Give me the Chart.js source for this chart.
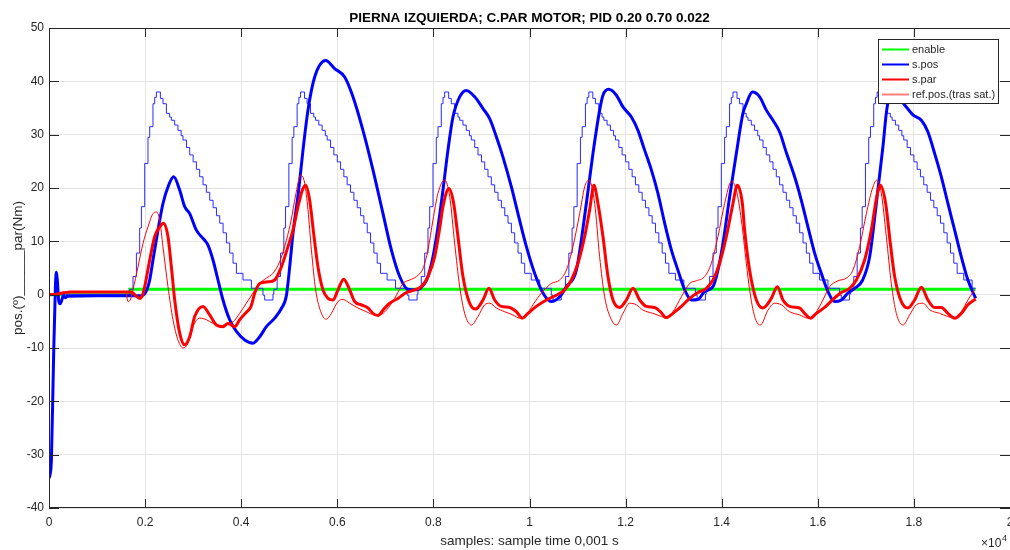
<!DOCTYPE html>
<html>
<head>
<meta charset="utf-8">
<title>PIERNA IZQUIERDA; C.PAR MOTOR</title>
<script src="https://cdn.jsdelivr.net/npm/chart.js@4.4.1/dist/chart.umd.min.js"></script>
<style>
  html, body { margin: 0; padding: 0; background: #ffffff; }
  canvas { display: block; }
</style>
</head>
<body>
<canvas id="legChart" width="1010" height="550"></canvas>
<script>
// --- DATA (samples, value) ---
const xTickValues = [0, 2000, 4000, 6000, 8000, 10000, 12000, 14000, 16000, 18000, 20000];
const xTickLabels = ['0', '0.2', '0.4', '0.6', '0.8', '1', '1.2', '1.4', '1.6', '1.8', '2'];
const yTickValues = [-40, -30, -20, -10, 0, 10, 20, 30, 40, 50];

const seriesNames = ['enable', 's.pos', 's.par', 'ref.pos.(tras sat.)'];

const enableSignal = [[0, 0], [1679, 0], [1680, 1], [19285, 1]];

const sPos = [
  [0, -34.4], [20, -33.8], [50, -31], [95, -12], [135, 2], [155, 4.2], [175, 2.5], [200, -1], [230, -1.7],
  [260, -1.2], [300, -0.2], [340, -0.6], [380, -0.3], [1000, -0.2], [1900, -0.2],
  [1956, -0.1], [2040, 1], [2096, 2.75], [2164, 6.5], [2268, 12.1], [2372, 17.1], [2476, 20.2], [2595, 22.1],
  [2720, 19.6], [2824, 16.5], [2928, 15.2], [3067, 12.1], [3240, 10.2], [3309, 9.3], [3413, 6.5], [3517, 2.75],
  [3621, -1], [3760, -4.7], [3900, -6.9], [4073, -8.5], [4245, -9.1], [4385, -7.9], [4524, -6.0], [4697, -4.4],
  [4836, -2.6], [4940, -0.2], [5009, 5.2], [5078, 11.5], [5196, 19.6], [5286, 27.1], [5390, 34.6], [5529, 40.8],
  [5758, 43.9], [5945, 42.4], [6153, 40.8], [6326, 37.1], [6534, 30.8], [6742, 23.4], [6951, 15.2], [7125, 8.4],
  [7298, 3.4], [7471, 1.0], [7646, 0.9], [7818, 2.1], [7887, 3.4], [7991, 7.1], [8095, 12.7], [8199, 19.6],
  [8303, 27.1], [8407, 33.3], [8547, 37.1], [8686, 38.3], [8859, 37.1], [9032, 34.9], [9171, 33.0], [9310, 29.6],
  [9448, 25.8], [9623, 20.2], [9760, 15.2], [9935, 9.0], [10107, 4.0], [10280, 0.3], [10455, -1.3], [10628, -0.4],
  [10767, 1.5], [10975, 4.6], [11183, 17.1], [11321, 26.5], [11460, 34.6], [11529, 37.4], [11648, 38.5],
  [11808, 37.4], [11945, 35.2], [12120, 33.3], [12257, 30.8], [12396, 27.1], [12536, 23.4], [12673, 19.0],
  [12813, 13.4], [12952, 8.4], [13089, 4.6], [13229, 0.9], [13368, -1.0], [13506, -0.9], [13645, 0.6],
  [13818, 1.5], [13922, 4.6], [14026, 9.6], [14166, 18.4], [14305, 26.5], [14442, 34.0], [14513, 35.8],
  [14638, 38.0], [14790, 37.1], [14929, 34.6], [15067, 32.7], [15206, 30.5], [15350, 26.5], [15518, 22.1],
  [15657, 17.7], [15795, 12.7], [15934, 7.8], [16073, 4.0], [16211, 0.6], [16350, -1.3], [16490, -1.0],
  [16627, 0.3], [16767, 1.2], [16934, 2.75], [17079, 7.1], [17218, 17.1], [17355, 27.7], [17434, 34.6],
  [17537, 38.0], [17700, 36.8], [17842, 35.2], [17980, 33.7], [18155, 32.7], [18292, 30.5], [18431, 26.5],
  [18571, 22.1], [18708, 17.1], [18848, 12.1], [18987, 7.1], [19124, 2.75], [19285, -0.7]
];

const sPar = [
  [0, 0], [150, 0.1], [300, 0.35], [450, 0.5], [1700, 0.5], [1748, 0.3], [1820, -0.3], [1887, -0.7], [1950, 0],
  [1992, 1.5], [2096, 6.5], [2200, 10.9], [2304, 12.7], [2387, 13.4], [2476, 10.9], [2547, 5.2], [2616, -1],
  [2720, -7.2], [2824, -9.4], [2928, -7.9], [3032, -4.1], [3205, -2.2], [3344, -3.8], [3484, -5.7], [3621, -6.0],
  [3725, -5.4], [3864, -6.0], [3969, -4.7], [4108, -3.3], [4200, -2.3], [4290, 0.5], [4385, 2.1], [4558, 2.4],
  [4697, 2.75], [4836, 5.2], [4974, 9.0], [5078, 12.1], [5182, 16.5], [5273, 19.6], [5342, 20.5], [5425, 17.7],
  [5508, 11.5], [5598, 5.2], [5702, 0.9], [5806, -0.7], [5910, -1.0], [6014, 0.9], [6133, 2.9], [6258, 0.9],
  [6362, -1.3], [6501, -1.9], [6638, -2.5], [6742, -3.5], [6847, -3.9], [6951, -2.9], [7090, -1.6], [7263, -0.7],
  [7437, 0.4], [7610, 0.9], [7750, 1.5], [7887, 3.4], [8026, 7.1], [8130, 12.4], [8199, 16.5], [8324, 19.9],
  [8422, 17.1], [8511, 10.9], [8615, 3.4], [8755, -1.6], [8880, -2.7], [9032, -1.0], [9156, 1.2], [9275, -1.0],
  [9414, -2.2], [9587, -2.4], [9727, -3.2], [9852, -4.4], [9968, -3.5], [10143, -2.2], [10351, -1.0],
  [10559, -0.1], [10732, 0.9], [10871, 2.75], [11009, 5.9], [11148, 10.9], [11252, 15.9], [11341, 20.5],
  [11425, 17.1], [11529, 10.9], [11633, 3.4], [11737, -1.0], [11876, -2.4], [12016, -1.0], [12153, 1.2],
  [12293, -1.0], [12432, -2.2], [12605, -2.4], [12723, -3.2], [12848, -4.3], [12986, -3.5], [13160, -2.2],
  [13333, -0.7], [13506, 0.4], [13681, 1.2], [13818, 2.75], [13957, 5.9], [14097, 10.9], [14222, 16.5],
  [14326, 20.5], [14430, 17.1], [14477, 12.1], [14581, 4.6], [14721, -1.0], [14858, -2.5], [15033, -0.7],
  [15158, 1.5], [15275, -1.0], [15414, -2.2], [15622, -2.5], [15726, -3.5], [15845, -4.4], [15970, -3.5],
  [16142, -2.4], [16315, -0.9], [16490, 0.4], [16663, 1.2], [16802, 2.75], [16975, 6.5], [17114, 12.1],
  [17230, 18.5], [17302, 20.5], [17412, 17.1], [17510, 9.6], [17599, 3.4], [17738, -1.3], [17876, -2.5],
  [18015, -1.0], [18155, 1.4], [18292, -1.0], [18431, -2.4], [18571, -2.4], [18708, -3.5], [18848, -4.4],
  [18987, -3.5], [19124, -1.9], [19285, -0.8]
];

const refPosSat = [
  [0, 0], [300, 0.35], [450, 0.5], [1600, 0.5], [1644, -1.3], [1700, -0.8], [1748, 0.9], [1852, 5.2],
  [1956, 9.6], [2060, 12.7], [2164, 15.2], [2235, 15.5], [2304, 14.0], [2372, 9.0], [2476, 1.5], [2580, -4.7],
  [2684, -8.5], [2789, -10.0], [2893, -9.1], [2997, -6.0], [3136, -4.4], [3276, -4.7], [3413, -5.4],
  [3552, -6.0], [3692, -5.4], [3829, -5.1], [3969, -3.5], [4108, -1.6], [4245, 0.3], [4385, 2.1], [4524, 3.1],
  [4661, 4.0], [4801, 6.2], [4940, 10.2], [5040, 14], [5130, 18.5], [5238, 22.4], [5321, 20.9], [5390, 15.9],
  [5461, 8.4], [5550, 0.9], [5669, -3.5], [5773, -4.6], [5877, -3.5], [6014, -1.3], [6118, -0.9], [6258, -1.6],
  [6430, -2.5], [6605, -3.2], [6778, -3.8], [6882, -3.8], [7021, -2.9], [7194, -0.7], [7367, 2.1], [7506, 2.75],
  [7646, 3.4], [7783, 4.9], [7887, 8.4], [7991, 14.0], [8095, 19.0], [8234, 21.5], [8339, 18.4], [8443, 9.6],
  [8547, 1.5], [8651, -3.5], [8790, -5.7], [8927, -4.1], [9067, -1.9], [9171, -1.6], [9310, -2.5], [9483, -3.2],
  [9656, -3.8], [9795, -4.4], [9935, -3.8], [10072, -1.9], [10247, 0.3], [10455, 2.1], [10628, 2.75],
  [10767, 4.6], [10904, 9.0], [11044, 15.2], [11148, 20.2], [11237, 21.5], [11356, 17.1], [11460, 7.1],
  [11564, -0.4], [11704, -4.7], [11808, -5.7], [11945, -3.5], [12084, -1.6], [12224, -1.9], [12361, -2.9],
  [12569, -3.5], [12744, -4.1], [12848, -4.4], [12986, -3.2], [13160, -0.4], [13333, 2.1], [13472, 2.6],
  [13645, 3.4], [13785, 5.9], [13922, 10.9], [14061, 17.1], [14201, 21.2], [14305, 19.6], [14409, 14.0],
  [14513, 5.9], [14581, 0.9], [14686, -4.1], [14804, -5.7], [14963, -2.9], [15102, -1.6], [15241, -1.9],
  [15414, -3.2], [15622, -3.8], [15795, -4.4], [15899, -4.1], [16073, -1.6], [16246, 1.5], [16419, 2.6],
  [16594, 3.1], [16731, 4.6], [16871, 9.0], [17010, 15.2], [17147, 20.2], [17231, 21.5], [17322, 19.0],
  [17426, 10.9], [17530, 2.1], [17634, -3.5], [17772, -5.7], [17911, -3.8], [18050, -1.9], [18188, -1.6],
  [18337, -2.9], [18535, -3.5], [18708, -4.1], [18848, -4.4], [18987, -3.2], [19124, -1.0], [19264, 0.9]
];

// stepped reference (not in legend), one row per gait cycle
const refPosSteps = [
  [0, 0],
  [1679, 1], [1748, 3.4], [1819, 7.8], [1887, 12.5], [1923, 16.5], [1992, 24.6], [2060, 29.5], [2096, 31.5], [2164, 35.8], [2200, 37], [2235, 38], [2318, 36.8], [2372, 35.8], [2443, 34.0], [2510, 33.3], [2547, 32.7], [2615, 31.8], [2684, 30.8], [2750, 29.8], [2789, 29.0], [2860, 27.6], [2928, 26.2], [3000, 24.9], [3068, 23.5], [3136, 22.1], [3205, 20.6], [3275, 19.2], [3345, 17.7], [3415, 16.3], [3485, 14.8], [3553, 13.4], [3623, 11.6], [3692, 9.7], [3761, 7.8], [3830, 5.9], [3900, 4.0], [4037, 2.75], [4212, 1.2], [4453, -0.1], [4489, -1], [4661, 0.1],
  [4679, 1], [4748, 3.4], [4819, 7.8], [4887, 12.5], [4923, 16.5], [4992, 24.6], [5060, 29.5], [5096, 31.5], [5164, 35.8], [5200, 37], [5235, 38], [5318, 36.8], [5372, 35.8], [5443, 34.0], [5510, 33.3], [5547, 32.7], [5615, 31.8], [5684, 30.8], [5750, 29.8], [5789, 29.0], [5860, 27.6], [5928, 26.2], [6000, 24.9], [6068, 23.5], [6136, 22.1], [6205, 20.6], [6275, 19.2], [6345, 17.7], [6415, 16.3], [6485, 14.8], [6553, 13.4], [6623, 11.6], [6692, 9.7], [6761, 7.8], [6830, 5.9], [6900, 4.0], [7037, 2.75], [7212, 1.2], [7453, -0.1], [7489, -1], [7661, 0.1],
  [7679, 1], [7748, 3.4], [7819, 7.8], [7887, 12.5], [7923, 16.5], [7992, 24.6], [8060, 29.5], [8096, 31.5], [8164, 35.8], [8200, 37], [8235, 38], [8318, 36.8], [8372, 35.8], [8443, 34.0], [8510, 33.3], [8547, 32.7], [8615, 31.8], [8684, 30.8], [8750, 29.8], [8789, 29.0], [8860, 27.6], [8928, 26.2], [9000, 24.9], [9068, 23.5], [9136, 22.1], [9205, 20.6], [9275, 19.2], [9345, 17.7], [9415, 16.3], [9485, 14.8], [9553, 13.4], [9623, 11.6], [9692, 9.7], [9761, 7.8], [9830, 5.9], [9900, 4.0], [10037, 2.75], [10212, 1.2], [10453, -0.1], [10489, -1], [10661, 0.1],
  [10679, 1], [10748, 3.4], [10819, 7.8], [10887, 12.5], [10923, 16.5], [10992, 24.6], [11060, 29.5], [11096, 31.5], [11164, 35.8], [11200, 37], [11235, 38], [11318, 36.8], [11372, 35.8], [11443, 34.0], [11510, 33.3], [11547, 32.7], [11615, 31.8], [11684, 30.8], [11750, 29.8], [11789, 29.0], [11860, 27.6], [11928, 26.2], [12000, 24.9], [12068, 23.5], [12136, 22.1], [12205, 20.6], [12275, 19.2], [12345, 17.7], [12415, 16.3], [12485, 14.8], [12553, 13.4], [12623, 11.6], [12692, 9.7], [12761, 7.8], [12830, 5.9], [12900, 4.0], [13037, 2.75], [13212, 1.2], [13453, -0.1], [13489, -1], [13661, 0.1],
  [13679, 1], [13748, 3.4], [13819, 7.8], [13887, 12.5], [13923, 16.5], [13992, 24.6], [14060, 29.5], [14096, 31.5], [14164, 35.8], [14200, 37], [14235, 38], [14318, 36.8], [14372, 35.8], [14443, 34.0], [14510, 33.3], [14547, 32.7], [14615, 31.8], [14684, 30.8], [14750, 29.8], [14789, 29.0], [14860, 27.6], [14928, 26.2], [15000, 24.9], [15068, 23.5], [15136, 22.1], [15205, 20.6], [15275, 19.2], [15345, 17.7], [15415, 16.3], [15485, 14.8], [15553, 13.4], [15623, 11.6], [15692, 9.7], [15761, 7.8], [15830, 5.9], [15900, 4.0], [16037, 2.75], [16212, 1.2], [16453, -0.1], [16489, -1], [16661, 0.1],
  [16679, 1], [16748, 3.4], [16819, 7.8], [16887, 12.5], [16923, 16.5], [16992, 24.6], [17060, 29.5], [17096, 31.5], [17164, 35.8], [17200, 37], [17235, 38], [17318, 36.8], [17372, 35.8], [17443, 34.0], [17510, 33.3], [17547, 32.7], [17615, 31.8], [17684, 30.8], [17750, 29.8], [17789, 29.0], [17860, 27.6], [17928, 26.2], [18000, 24.9], [18068, 23.5], [18136, 22.1], [18205, 20.6], [18275, 19.2], [18345, 17.7], [18415, 16.3], [18485, 14.8], [18553, 13.4], [18623, 11.6], [18692, 9.7], [18761, 7.8], [18830, 5.9], [18900, 4.0], [19037, 2.75], [19212, 1.2], [19285, 1.2]
];

// --- STYLE ---
const FONT = "'Liberation Sans', Arial, Helvetica, sans-serif";
const axisInk = '#262626';
const green = '#00ff00';
const blue = '#0000ff';
const red = '#ff0000';

function toXY(arr) {
    return arr.map(p => ({ x: p[0], y: p[1] }));
}

// --- FRAME, TICKS, LABELS, LEGEND (MATLAB look) ---
const matlabFrame = {
    id: 'matlabFrame',
    afterDraw(chart) {
        const { ctx, chartArea: a, scales } = chart;
        const xs = scales.x, ys = scales.y;
        ctx.save();

        // box (right edge sits on the window border)
        ctx.strokeStyle = axisInk;
        ctx.lineWidth = 1;
        ctx.beginPath();
        ctx.moveTo(a.right, a.top + 0.5);
        ctx.lineTo(a.left + 0.5, a.top + 0.5);
        ctx.lineTo(a.left + 0.5, a.bottom - 0.5);
        ctx.lineTo(a.right, a.bottom - 0.5);
        ctx.stroke();

        // inward ticks
        ctx.beginPath();
        xTickValues.forEach(v => {
            const px = Math.round(xs.getPixelForValue(v)) + 0.5;
            ctx.moveTo(px, a.bottom); ctx.lineTo(px, a.bottom - 9);
            ctx.moveTo(px, a.top); ctx.lineTo(px, a.top + 9);
        });
        yTickValues.forEach(v => {
            const py = Math.round(ys.getPixelForValue(v)) + 0.5;
            ctx.moveTo(a.left, py); ctx.lineTo(a.left + 10, py);
            ctx.moveTo(a.right, py); ctx.lineTo(a.right - 10, py);
        });
        ctx.stroke();

        // tick labels
        ctx.fillStyle = axisInk;
        ctx.font = '12px ' + FONT;
        ctx.textAlign = 'center';
        ctx.textBaseline = 'top';
        xTickValues.forEach((v, i) => {
            ctx.fillText(xTickLabels[i], xs.getPixelForValue(v), a.bottom + 9);
        });
        ctx.textAlign = 'right';
        ctx.textBaseline = 'middle';
        yTickValues.forEach(v => {
            ctx.fillText(String(v), a.left - 5, ys.getPixelForValue(v));
        });

        // exponent
        ctx.textAlign = 'left';
        ctx.textBaseline = 'alphabetic';
        ctx.font = '12px ' + FONT;
        ctx.fillText('\u00d710', 981, 547);
        ctx.font = '9px ' + FONT;
        ctx.fillText('4', 1002, 541);

        // title
        ctx.fillStyle = '#000000';
        ctx.font = 'bold 13.5px ' + FONT;
        ctx.textAlign = 'center';
        ctx.textBaseline = 'alphabetic';
        ctx.fillText('PIERNA IZQUIERDA; C.PAR MOTOR; PID 0.20 0.70 0.022', (a.left + a.right) / 2, 21.5);

        // axis titles
        ctx.fillStyle = axisInk;
        ctx.font = '13.5px ' + FONT;
        ctx.fillText('samples: sample time 0,001 s', (a.left + a.right) / 2, 545);
        ctx.save();
        ctx.translate(22, (a.top + a.bottom) / 2);
        ctx.rotate(-Math.PI / 2);
        ctx.fillText('pos.(\u00ba)______par(Nm)', 0, 0);
        ctx.restore();

        // legend box
        const lx = 878.5, ly = 39.5, lw = 120, lh = 64;
        ctx.fillStyle = '#ffffff';
        ctx.fillRect(lx, ly, lw, lh);
        ctx.strokeStyle = axisInk;
        ctx.lineWidth = 1;
        ctx.strokeRect(lx, ly, lw, lh);
        const legendColors = [green, blue, red, '#ff7f7f'];
        ctx.font = '11px ' + FONT;
        ctx.textAlign = 'left';
        ctx.textBaseline = 'middle';
        seriesNames.forEach((name, i) => {
            const yy = 49.5 + i * 15;
            ctx.strokeStyle = legendColors[i];
            ctx.lineWidth = 2;
            ctx.beginPath();
            ctx.moveTo(882, yy); ctx.lineTo(909, yy);
            ctx.stroke();
            ctx.fillStyle = axisInk;
            ctx.fillText(name, 912, yy + 0.5);
        });

        ctx.restore();
    }
};

// --- BUILD CHART ---
new Chart(document.getElementById('legChart'), {
    type: 'line',
    data: {
        datasets: [
            {
                label: seriesNames[3],
                data: toXY(refPosSat),
                borderColor: red,
                borderWidth: 1,
                cubicInterpolationMode: 'monotone',
                order: 1
            },
            {
                label: seriesNames[2],
                data: toXY(sPar),
                borderColor: red,
                borderWidth: 3,
                cubicInterpolationMode: 'monotone',
                order: 2
            },
            {
                label: seriesNames[1],
                data: toXY(sPos),
                borderColor: blue,
                borderWidth: 3,
                cubicInterpolationMode: 'monotone',
                order: 3
            },
            {
                label: 'ref.pos',
                data: toXY(refPosSteps),
                borderColor: '#2a2aff',
                borderWidth: 1,
                stepped: true,
                order: 4
            },
            {
                label: seriesNames[0],
                data: toXY(enableSignal),
                borderColor: green,
                borderWidth: 3,
                order: 5
            }
        ]
    },
    options: {
        responsive: false,
        animation: false,
        devicePixelRatio: 1,
        parsing: true,
        elements: { point: { radius: 0 }, line: { fill: false } },
        layout: { padding: { top: 28, left: 0, right: 0, bottom: 0 } },
        plugins: {
            legend: { display: false },
            title: { display: false },
            tooltip: { enabled: false }
        },
        scales: {
            x: {
                type: 'linear',
                min: 0,
                max: 20000,
                ticks: { stepSize: 2000, display: false },
                grid: { color: '#e3e3e3', drawTicks: false },
                border: { display: false },
                afterFit: s => { s.height = 42; }
            },
            y: {
                type: 'linear',
                min: -40,
                max: 50,
                ticks: { stepSize: 10, display: false },
                grid: { color: '#e3e3e3', drawTicks: false },
                border: { display: false },
                afterFit: s => { s.width = 49; }
            }
        }
    },
    plugins: [matlabFrame]
});
</script>
</body>
</html>
